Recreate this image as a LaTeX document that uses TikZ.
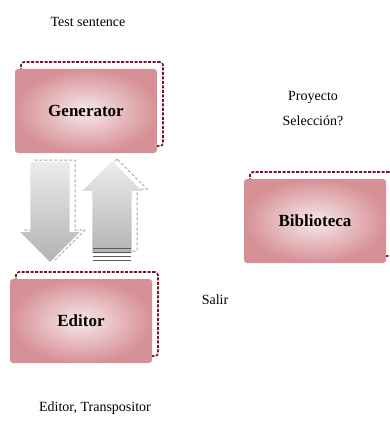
\documentclass[tikz,border=0pt]{standalone}
\usepackage{fontspec}
\setmainfont{Liberation Serif}
\usetikzlibrary{shapes,arrows,positioning,calc}

\definecolor{rosa}{RGB}{214,145,150}
\definecolor{rosahell}{RGB}{248,232,234}
\definecolor{weinrot}{RGB}{120,20,30}

\tikzset{
  modul/.style={minimum width=142pt, minimum height=84pt, rounded corners=3pt,
    inner color=rosahell, outer color=rosa, font=\fontsize{17}{19}\selectfont\bfseries},
  rahmen/.style={draw=weinrot, dash pattern=on 3pt off 1.5pt, line width=1.6pt, rounded corners=3pt,
    minimum width=142pt, minimum height=84pt},
  pfeil/.style={single arrow, inner xsep=0pt, inner ysep=19.5pt, single arrow head extend=10pt,
    single arrow head indent=0pt, top color=gray!15, bottom color=gray!60},
  pfeilrand/.style={single arrow, inner xsep=0pt, inner ysep=19.5pt, single arrow head extend=10pt,
    draw=gray!70, dash pattern=on 3pt off 2pt, line width=1pt},
  etikett/.style={font=\fontsize{14}{16}\selectfont, align=center}
}

\begin{document}
\begin{tikzpicture}[x=1pt, y=-1pt]
  \useasboundingbox (0,0) rectangle (390,425);

  % back frames
  \node[rahmen] at (92,104) {};
  \node[rahmen] at (87,314) {};
  \node[rahmen] at (321,214) {};

  % boxes
  \node[modul] (gen) at (86,111) {Generator};
  \node[modul] (edit) at (81,321) {Editor};
  \node[modul] (bib) at (315,221) {Biblioteca};

  % arrows between generator and editor
  \node[pfeilrand, minimum height=100pt, rotate=-90] at (55,200) {};
  \node[pfeil, minimum height=100pt, rotate=-90] (ab) at (50,202) {};
  \node[pfeilrand, minimum height=92pt, rotate=90] at (117,215) {};
  \node[pfeil, minimum height=92pt, rotate=90] (auf) at (112,217) {};
  \foreach \y in {248,252,256,260}
    \draw[gray!70!black, line width=0.8pt] (93,\y) -- (131,\y);

  % labels
  \node[etikett] (test) at (88,22) {Test sentence};
  \node[etikett] (proj) at (313,97) {Proyecto};
  \node[etikett, below=6pt of proj] (sel) {Selecci\'on?};
  \node[etikett] (sal) at (215,300) {Salir};
  \node[etikett] (trans) at (95,408) {Editor, Transpositor};
\end{tikzpicture}
\end{document}
